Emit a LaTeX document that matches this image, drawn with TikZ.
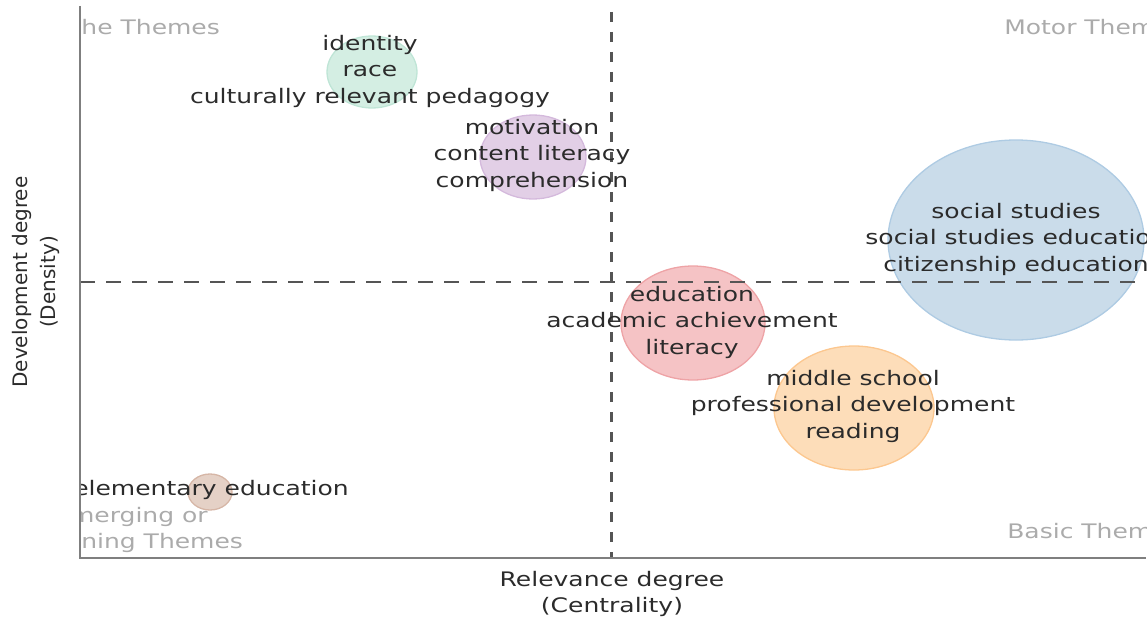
\documentclass[tikz,border=0pt]{standalone}
\usepackage{fontspec}
\setmainfont[FakeStretch=1.25]{DejaVu Sans}
\newfontfamily\axisfont{DejaVu Sans}
\usetikzlibrary{shapes.geometric}
\definecolor{txtgray}{HTML}{2B2B2B}
\definecolor{cornergray}{HTML}{ABABAB}
\definecolor{dashgray}{HTML}{555555}
\definecolor{axisgray}{HTML}{7F7F7F}
\definecolor{grnfill}{HTML}{D4EEE3}\definecolor{grnline}{HTML}{BFE5D6}
\definecolor{purfill}{HTML}{E2CFE6}\definecolor{purline}{HTML}{D4B9DC}
\definecolor{blufill}{HTML}{CADCEA}\definecolor{bluline}{HTML}{AECBE3}
\definecolor{redfill}{HTML}{F5C3C5}\definecolor{redline}{HTML}{EEA3A6}
\definecolor{orafill}{HTML}{FDDDB9}\definecolor{oraline}{HTML}{FCC78F}
\definecolor{brnfill}{HTML}{E5D1C6}\definecolor{brnline}{HTML}{D6B6A6}
\tikzset{
  bubble/.style={ellipse, line width=1.3pt, inner sep=0pt},
  theme/.style={align=center, inner sep=0pt, text=txtgray, font=\fontsize{20}{26.5}\selectfont},
  corner/.style={align=center, inner sep=0pt, text=cornergray, font=\fontsize{20}{26.5}\selectfont},
  axistitle/.style={align=center, inner sep=0pt, text=txtgray, font=\fontsize{20}{26.5}\selectfont},
  quadv/.style={draw=dashgray, line width=3pt, dash pattern=on 10pt off 10pt},
  quadh/.style={draw=dashgray, line width=2.8pt, dash pattern=on 15pt off 11pt},
  axisline/.style={draw=axisgray, line width=1.5pt}
}
\begin{document}
\begin{tikzpicture}[x=1pt,y=-1pt]
\useasboundingbox (0,0) rectangle (1148,626);
\coordinate (top) at (80,6);
\coordinate (o) at (80,558);
\coordinate (end) at (1146,558);
\coordinate (vtop) at (611,12);
\coordinate (vbot) at (611,558);
\coordinate (hleft) at (80,282);
\coordinate (hright) at (1146,282);
\begin{scope}
\clip (80,0) rectangle (1146,558);
% bubbles
\foreach \n/\x/\y/\w/\h/\c in {b1/372/72/90/72/grn, b2/533/157/106/84/pur,
  b3/1016/240/256/200/blu, b4/693/323/144/114/red, b5/854/408/160/124/ora,
  b6/210/492/44/36/brn}
  \node[bubble, fill=\c fill, draw=\c line, minimum width=\w pt, minimum height=\h pt] (\n) at (\x,\y) {};
\draw[quadv] (vtop) -- (vbot);
\draw[quadh] (hleft) -- (hright);
% themes
\node[theme] (t1) at (370,71) {identity\\race\\culturally relevant pedagogy};
\node[theme] (t2) at (532,155) {motivation\\content literacy\\comprehension};
\node[theme] (t3) at (1016,239) {social studies\\social studies education\\citizenship education};
\node[theme] (t4) at (692,322) {education\\academic achievement\\literacy};
\node[theme] (t5) at (853,406) {middle school\\professional development\\reading};
\node[theme] (t6) at (211,490) {elementary education};
% quadrants
\node[corner] (niche) at (131,27) {Niche Themes};
\node[corner] (motor) at (1094,27) {Motor Themes};
\node[corner] (emerg) at (131,530) {Emerging or\\Declining Themes};
\node[corner] (basic) at (1094,531) {Basic Themes};
\end{scope}
\draw[axisline] (top) -- (o) -- (end);
\node[axistitle] (xtitle) at (612,594) {Relevance degree\\(Centrality)};
\node[axistitle, rotate=90, font=\axisfont\fontsize{20}{28}\selectfont] (ytitle) at (36,282) {Development degree\\(Density)};
\end{tikzpicture}
\end{document}
